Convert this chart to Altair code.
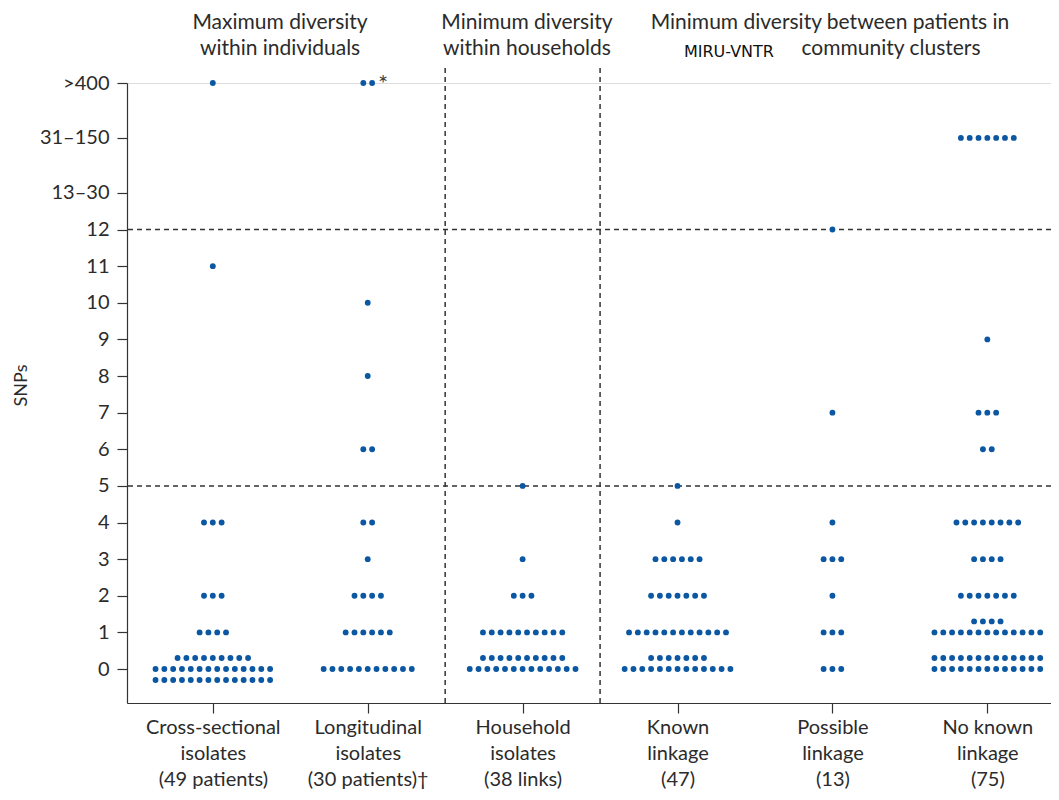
import altair as alt
import pandas as pd

# ---- data -------------------------------------------------------------
CATEGORY_LINES = [
    ["Cross-sectional", "isolates", "(49 patients)"],
    ["Longitudinal", "isolates", "(30 patients)\u2020"],
    ["Household", "isolates", "(38 links)"],
    ["Known", "linkage", "(47)"],
    ["Possible", "linkage", "(13)"],
    ["No known", "linkage", "(75)"],
]

# SNP level labels (bottom to top) and where they sit on the broken axis
LEVEL_LABELS = ["0", "1", "2", "3", "4", "5", "6", "7", "8", "9", "10", "11",
                "12", "13\u201330", "31\u2013150", ">400"]
LEVEL_POS = [0, 1, 2, 3, 4, 5, 6, 7, 8, 9, 10, 11, 12, 13, 14.5, 16]

# per group: SNP level -> dots per row of the swarm (bottom row first)
CROSS_LEVELS = [">400", "11", "4", "2", "1", "0"]
CROSS_ROWS = [[1], [1], [3], [3], [4], [14, 14, 9]]

LONG_LEVELS = [">400", "10", "8", "6", "4", "3", "2", "1", "0"]
LONG_ROWS = [[2], [1], [1], [2], [2], [1], [4], [6], [11]]

HOUSE_LEVELS = ["5", "3", "2", "1", "0"]
HOUSE_ROWS = [[1], [1], [3], [10], [13, 10]]

KNOWN_LEVELS = ["5", "4", "3", "2", "1", "0"]
KNOWN_ROWS = [[1], [1], [6], [7], [12], [13, 7]]

POSS_LEVELS = ["12", "7", "4", "3", "2", "1", "0"]
POSS_ROWS = [[1], [1], [1], [3], [1], [3], [3]]

NOKNOWN_LEVELS = ["31\u2013150", "9", "7", "6", "4", "3", "2", "1", "0"]
NOKNOWN_ROWS = [[7], [1], [3], [2], [8], [4], [7], [13, 4], [13, 13]]

GROUPS = [
    (CROSS_LEVELS, CROSS_ROWS),
    (LONG_LEVELS, LONG_ROWS),
    (HOUSE_LEVELS, HOUSE_ROWS),
    (KNOWN_LEVELS, KNOWN_ROWS),
    (POSS_LEVELS, POSS_ROWS),
    (NOKNOWN_LEVELS, NOKNOWN_ROWS),
]

THRESHOLDS = [5, 12]
DIVIDERS = [1.5, 2.5]

HEADER_TEXT = ["Maximum diversity", "within individuals",
               "Minimum diversity", "within households",
               "Minimum diversity between patients in", "community clusters"]
HEADER_X = [0.434, 0.434, 2.028, 2.028, 3.984, 4.378]
HEADER_Y = [17.64, 16.94, 17.64, 16.94, 17.64, 16.94]

# ---- swarm layout ------------------------------------------------------
DX = 0.0569   # horizontal dot spacing (data units)
DY = 0.30     # vertical row spacing (data units)
pos_of = dict(zip(LEVEL_LABELS, LEVEL_POS))

rows = []
for g, (levels, rowsets) in enumerate(GROUPS):
    for lev, counts in zip(levels, rowsets):
        base = (len(counts) - 1) // 2
        for j, n in enumerate(counts):
            yoff = (j - base) * DY
            for i in range(n):
                rows.append({
                    "x": g + (i - (n - 1) / 2) * DX,
                    "y": pos_of[lev] + yoff,
                    "group": g,
                    "level": lev,
                })
dots = pd.DataFrame(rows)

XMIN, XMAX = -0.554, 5.411
YMIN, YMAX = -0.928, 16.0

xs = alt.Scale(domain=[XMIN, XMAX], nice=False, zero=False)
ys = alt.Scale(domain=[YMIN, YMAX], nice=False, zero=False)

label_arr = "[" + ",".join(
    "[" + ",".join("'" + s + "'" for s in lines) + "]" for lines in CATEGORY_LINES
) + "]"
ylab_expr = " : ".join(
    f"datum.value == {p} ? '{l}'" for p, l in zip(LEVEL_POS, LEVEL_LABELS)
) + " : ''"

TXT = "#2b2b2b"
FONT = "Lato"
DASH = [5, 4]

points = alt.Chart(dots).mark_circle(size=34, color="#0b57a2", opacity=1).encode(
    x=alt.X("x:Q", scale=xs, axis=alt.Axis(
        values=[0, 1, 2, 3, 4, 5], title=None, grid=False,
        labelExpr=f"{label_arr}[datum.value]",
        labelFont=FONT, labelFontSize=20, labelColor=TXT,
        labelLineHeight=26, labelBaseline="top", labelPadding=4,
        tickSize=10, tickColor="#333", domainColor="#333",
        tickWidth=1.2, domainWidth=1.2, labelAlign="center")),
    y=alt.Y("y:Q", scale=ys, axis=alt.Axis(
        values=LEVEL_POS, title="SNPs", grid=False,
        labelExpr=ylab_expr,
        labelFont=FONT, labelFontSize=20, labelColor=TXT, labelPadding=8,
        tickSize=10, tickColor="#333", domainColor="#333",
        tickWidth=1.2, domainWidth=1.2,
        titleFont=FONT, titleFontSize=18, titleFontWeight="normal",
        titleColor=TXT, titleX=-106, titleY=302, titleAngle=-90,
        titleAlign="center", titleBaseline="middle")),
)

hlines = alt.Chart(pd.DataFrame({"y": THRESHOLDS})).mark_rule(
    color="#333", strokeDash=DASH, strokeWidth=1.5
).encode(y=alt.Y("y:Q", scale=ys))

vlines = alt.Chart(pd.DataFrame({"x": DIVIDERS, "y0": [YMIN] * 2, "y1": [16.5] * 2})).mark_rule(
    color="#333", strokeDash=DASH, strokeWidth=1.5
).encode(x=alt.X("x:Q", scale=xs), y=alt.Y("y0:Q", scale=ys), y2="y1:Q")

hdr = pd.DataFrame({"text": HEADER_TEXT, "x": HEADER_X, "y": HEADER_Y})
headers = alt.Chart(hdr).mark_text(font=FONT, fontSize=21, color=TXT,
                                   align="center", baseline="middle").encode(
    x=alt.X("x:Q", scale=xs), y=alt.Y("y:Q", scale=ys), text="text:N")

miru = alt.Chart(pd.DataFrame({"text": ["MIRU-VNTR"], "x": [3.332], "y": [16.85]})).mark_text(
    font="DejaVu Sans", fontSize=16, color="#111", align="center", baseline="middle"
).encode(x=alt.X("x:Q", scale=xs), y=alt.Y("y:Q", scale=ys), text="text:N")

star = alt.Chart(pd.DataFrame({"text": ["*"], "x": [1.099], "y": [15.95]})).mark_text(
    font=FONT, fontSize=24, color="#444", align="center", baseline="middle"
).encode(x=alt.X("x:Q", scale=xs), y=alt.Y("y:Q", scale=ys), text="text:N")

chart = alt.layer(vlines, hlines, points, headers, miru, star).properties(
    width=924, height=620,
    padding={"left": 119, "top": 75, "right": 0, "bottom": 89},
    autosize=alt.AutoSizeParams(type="none"),
).configure_view(stroke=None).configure(background="white")

chart.save("out.html", embed_options={"renderer": "svg", "actions": False})
